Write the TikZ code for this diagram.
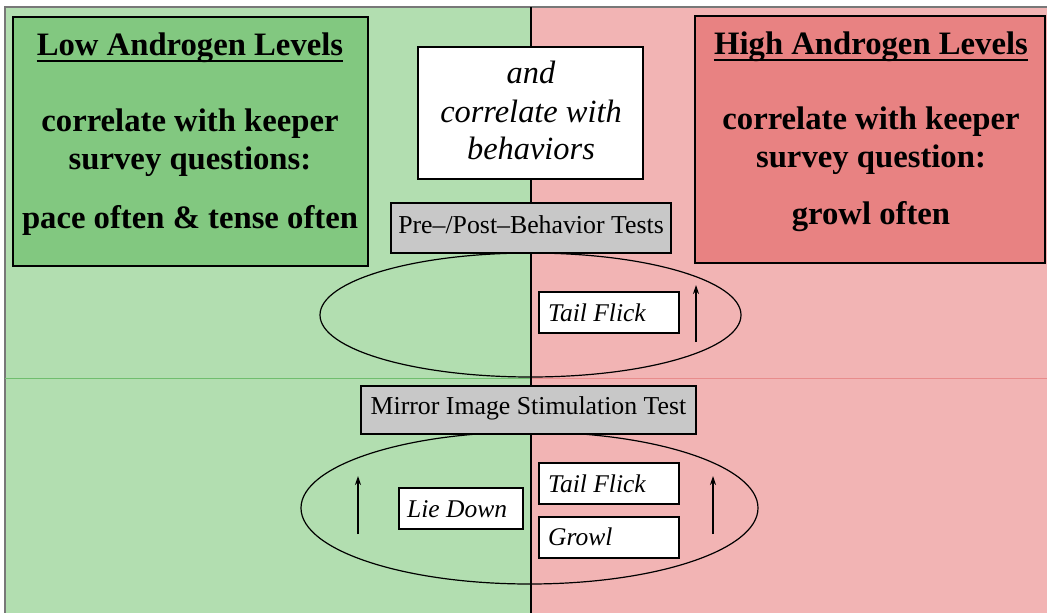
\documentclass[tikz,border=0pt]{standalone}
\usepackage{fontspec}
\setmainfont{Liberation Serif}
\usetikzlibrary{shapes.geometric,arrows.meta}
\definecolor{greenbg}{RGB}{178,222,176}
\definecolor{greenbox}{RGB}{130,200,128}
\definecolor{greenline}{RGB}{112,190,110}
\definecolor{redbg}{RGB}{242,180,180}
\definecolor{redbox}{RGB}{232,130,130}
\definecolor{redline}{RGB}{232,140,140}
\definecolor{greybox}{RGB}{200,200,200}
\definecolor{framegrey}{RGB}{120,120,120}
\begin{document}
\begin{tikzpicture}[x=1pt,y=-1pt,
  bigbox/.style={draw=black, line width=2pt, inner sep=0pt},
  whitebox/.style={draw=black, fill=white, line width=1.3pt, inner sep=0pt},
  greybx/.style={draw=black, fill=greybox, line width=1.3pt, inner sep=0pt},
  boldtxt/.style={font=\fontsize{32.7}{36}\selectfont\bfseries, anchor=base, inner sep=0pt},
  itxt/.style={font=\fontsize{32.4}{36}\selectfont\itshape, anchor=base, inner sep=0pt},
  smallit/.style={font=\fontsize{25.5}{30}\selectfont\itshape, anchor=base west, inner sep=0pt},
  regtxt/.style={font=\fontsize{25.8}{30}\selectfont, anchor=base, inner sep=0pt},
  ring/.style={ellipse, draw=black, line width=1.2pt, inner sep=0pt},
  uparrow/.style={-{Stealth[length=9pt,width=6pt]}, line width=1.5pt}
]
\useasboundingbox (0,0) rectangle (1047,613);
% background panels
\fill[white] (0,0) rectangle (1047,613);
\fill[greenbg] (5,7) rectangle (531,613);
\fill[redbg] (531,7) rectangle (1047,613);
\draw[framegrey, line width=1.2pt] (5,613) -- (5,7) -- (1047,7);
\draw[greenline, line width=1pt] (5,378) -- (531,378);
\draw[redline, line width=1pt] (531,378) -- (1047,378);
\draw[black, line width=1.3pt] (531,7) -- (531,613);

% left box
\node[bigbox, fill=greenbox, minimum width=355, minimum height=249] (lowbox) at (190.5,141) {};
\node[boldtxt] (lowtitle) at (190,55) {Low Androgen Levels};
\draw[line width=2pt] ([yshift=-6pt]lowtitle.base west) -- ([yshift=-6pt]lowtitle.base east);
\node[boldtxt] (low1) at (190,131) {correlate with keeper};
\node[boldtxt] (low2) at (190,169) {survey questions:};
\node[boldtxt] (low3) at (190,228) {pace often \& tense often};

% right box
\node[bigbox, fill=redbox, minimum width=350, minimum height=247] (highbox) at (870,139.5) {};
\node[boldtxt] (hightitle) at (871,54) {High Androgen Levels};
\draw[line width=2pt] ([yshift=-6pt]hightitle.base west) -- ([yshift=-6pt]hightitle.base east);
\node[boldtxt] (high1) at (871,129) {correlate with keeper};
\node[boldtxt] (high2) at (871,167) {survey question:};
\node[boldtxt] (high3) at (871,224) {growl often};

% center white box
\node[whitebox, minimum width=225, minimum height=132] (andbox) at (530.5,113) {};
\node[itxt] (and1) at (531,83) {and};
\node[itxt] (and2) at (531,122) {correlate with};
\node[itxt] (and3) at (531,159) {behaviors};

% upper ellipse group
\node[ring, minimum width=421, minimum height=124] (ring1) at (530.5,315) {};
\node[greybx, minimum width=280, minimum height=50] (prepost) at (531,228) {};
\node[regtxt] (prepostt) at (531,233) {Pre–/Post–Behavior Tests};
\node[whitebox, minimum width=140, minimum height=41] (tf1) at (609,312.5) {};
\node[smallit] (tf1t) at (548,321) {Tail Flick};
\coordinate (a1s) at (696,342);
\coordinate (a1e) at (696,285);
\draw[uparrow] (a1s) -- (a1e);

% lower ellipse group
\node[ring, minimum width=457, minimum height=152] (ring2) at (529.5,508) {};
\node[greybx, minimum width=335, minimum height=48] (mirror) at (528.5,410) {};
\node[regtxt] (mirrort) at (528.5,414) {Mirror Image Stimulation Test};
\node[whitebox, minimum width=124, minimum height=41] (lie) at (461,508.5) {};
\node[smallit] (liet) at (407,517) {Lie Down};
\node[whitebox, minimum width=140, minimum height=41] (tf2) at (609,483.5) {};
\node[smallit] (tf2t) at (548,492) {Tail Flick};
\node[whitebox, minimum width=140, minimum height=41] (growl) at (609,537.5) {};
\node[smallit] (growlt) at (548,545) {Growl};
\coordinate (a2s) at (358,534);
\coordinate (a2e) at (358,476);
\draw[uparrow] (a2s) -- (a2e);
\coordinate (a3s) at (713,534);
\coordinate (a3e) at (713,476);
\draw[uparrow] (a3s) -- (a3e);
\end{tikzpicture}
\end{document}
